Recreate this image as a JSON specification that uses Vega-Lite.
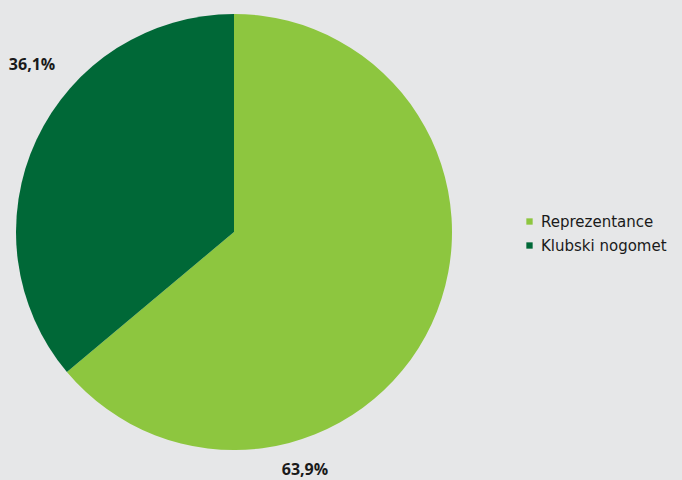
{
  "$schema": "https://vega.github.io/schema/vega-lite/v6.json",
  "width": 468,
  "height": 464,
  "padding": {"left": 0, "top": 0, "right": 214, "bottom": 16},
  "autosize": "none",
  "background": "#e6e7e8",
  "config": {"view": {"stroke": null}},
  "data": {"values": [
    {"category": "Reprezentance", "value": 63.9, "label": "63,9%"},
    {"category": "Klubski nogomet", "value": 36.1, "label": "36,1%"}
  ]},
  "encoding": {
    "theta": {"field": "value", "type": "quantitative", "stack": true},
    "order": {"field": "value", "type": "quantitative", "sort": "descending"},
    "color": {
      "field": "category", "type": "nominal",
      "scale": {"domain": ["Reprezentance", "Klubski nogomet"], "range": ["#8dc63f", "#006837"]},
      "legend": {
        "title": null,
        "orient": "none",
        "legendX": 522,
        "legendY": 214,
        "symbolType": "square",
        "symbolSize": 40,
        "labelFont": "DejaVu Sans",
        "labelFontSize": 15,
        "labelColor": "#1a1a1a",
        "rowPadding": 8,
        "encode": {"symbols": {
          "enter": {"fill": {"signal": "datum.value === 'Reprezentance' ? '#8dc63f' : '#009a5a'"}},
          "update": {"fill": {"signal": "datum.value === 'Reprezentance' ? '#8dc63f' : '#009a5a'"}, "stroke": {"value": null}}
        }}
      }
    }
  },
  "layer": [
    {"mark": {"type": "arc", "outerRadius": 218}},
    {
      "mark": {
        "type": "text", "radius": 235,
        "font": "Open Sans", "fontWeight": "bold", "fontSize": 16, "color": "#1a1a1a",
        "dx": {"expr": "datum.category === 'Reprezentance' ? -142 : 11"},
        "dy": {"expr": "datum.category === 'Reprezentance' ? 139 : -68"}
      },
      "encoding": {"text": {"field": "label"}, "color": {"value": "#1a1a1a"}}
    }
  ]
}
